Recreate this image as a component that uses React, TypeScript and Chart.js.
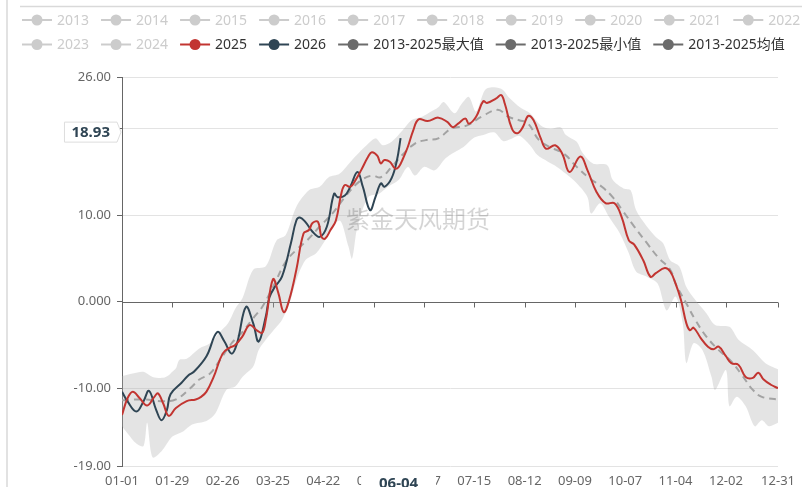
import React, { useEffect, useRef } from "react";
import { Chart, registerables } from "chart.js";

Chart.register(...registerables);

const FONT = '"Noto Sans", "Noto Sans CJK SC", sans-serif';

// legend
const greyLegend = ["2013", "2014", "2015", "2016", "2017", "2018", "2019", "2020", "2021", "2022", "2023", "2024"];
const activeLegend = ["2025", "2026", "2013-2025最大值", "2013-2025最小值", "2013-2025均值"];
const activeLegendColors = ["#c23531", "#2f4554", "#6b6b6b", "#6b6b6b", "#6b6b6b"];
const firstRowCount = 10;

// axes
const baseYear = 2024;
const xTickDays = [0, 28, 56, 84, 112, 140, 168, 196, 224, 252, 280, 308, 336, 365];
const yTickValues = [-19, -10, 0, 10, 20, 26];
const watermark = "紫金天风期货";

// 2025
const days2025 = [0, 3, 6, 10, 14, 18, 20, 23, 26, 30, 36, 41, 44, 47, 51, 56, 60, 63, 67, 71, 75, 78, 80, 84, 87, 90, 93, 97, 101, 104, 106, 109, 111, 113, 116, 119, 122, 124, 127, 130, 133, 137, 139, 142, 144, 146, 149, 152, 154, 156, 159, 162, 165, 170, 176, 181, 184, 187, 191, 193, 197, 201, 203, 208, 211, 213, 217, 220, 223, 226, 229, 233, 236, 241, 245, 249, 255, 259, 264, 269, 274, 278, 282, 285, 290, 294, 297, 302, 305, 308, 311, 314, 316, 318, 322, 326, 329, 332, 336, 339, 343, 347, 351, 354, 357, 361, 365];
const values2025 = [-13.1, -11.2, -10.4, -11.2, -12.0, -11.0, -10.6, -11.8, -13.2, -12.3, -11.5, -11.3, -11.0, -10.4, -8.7, -6.0, -5.3, -5.0, -4.0, -2.7, -3.3, -3.6, -2.1, 2.6, 1.0, -1.2, 0.2, 3.7, 7.9, 8.3, 9.1, 9.25, 7.5, 7.3, 8.3, 9.4, 12.5, 13.5, 13.3, 14.1, 15.2, 16.8, 17.3, 16.9, 16.0, 16.4, 16.2, 15.4, 15.6, 16.4, 17.9, 19.8, 21.1, 20.9, 21.3, 20.8, 20.2, 20.6, 21.2, 20.6, 21.4, 23.2, 23.0, 23.5, 23.9, 22.9, 20.0, 19.5, 20.2, 21.5, 21.0, 18.9, 17.7, 18.1, 17.1, 15.0, 16.8, 15.2, 12.7, 11.4, 11.4, 9.8, 7.1, 6.6, 4.8, 2.9, 3.3, 3.9, 3.5, 2.1, 0.2, -2.5, -3.3, -3.0, -4.2, -5.2, -5.5, -5.2, -6.3, -7.1, -7.3, -8.7, -8.8, -8.2, -9.0, -9.6, -10.0];

// 2026
const days2026 = [0, 3, 8, 12, 15, 19, 22, 25, 27, 33, 37, 40, 47, 53, 57, 61, 64, 69, 73, 76, 80, 82, 85, 89, 94, 97, 99, 102, 106, 110, 114, 118, 120, 124, 127, 131, 134, 138, 141, 144, 146, 150, 153, 155];
const values2026 = [-10.4, -11.5, -12.7, -11.5, -10.3, -12.5, -13.7, -12.5, -10.7, -9.4, -8.5, -8.1, -6.3, -3.5, -4.6, -6.0, -4.8, -0.6, -2.5, -4.6, -1.7, 0.5, 1.7, 2.9, 6.8, 9.4, 9.75, 9.25, 8.1, 7.5, 8.7, 12.5, 12.1, 12.3, 13.3, 15.0, 13.3, 10.6, 12.1, 13.7, 13.3, 14.3, 16.4, 18.93];

// 2013-2025 mean
const daysMean = [0, 12, 23, 30, 38, 43, 49, 54, 61, 67, 73, 78, 84, 91, 97, 103, 110, 117, 124, 132, 139, 144, 150, 156, 163, 169, 176, 183, 192, 200, 209, 215, 221, 226, 232, 238, 246, 253, 260, 267, 273, 279, 285, 292, 298, 305, 308, 314, 319, 325, 332, 339, 345, 351, 356, 365];
const valuesMean = [-11.4, -11.3, -11.5, -11.3, -10.0, -9.0, -8.3, -6.9, -4.8, -3.5, -1.9, -0.6, 1.7, 4.6, 6.0, 7.1, 8.7, 10.2, 12.1, 13.9, 14.6, 14.4, 15.6, 17.0, 18.3, 18.7, 18.9, 20.0, 20.4, 21.4, 22.2, 21.4, 21.0, 20.6, 18.7, 17.9, 17.1, 15.6, 14.3, 13.3, 12.1, 10.4, 8.7, 6.8, 5.2, 3.7, 2.1, -0.2, -2.1, -4.0, -5.6, -6.9, -8.5, -10.2, -11.0, -11.3];

// 2013-2025 max
const daysMax = [0, 6, 12, 17, 23, 26, 28, 30, 32, 36, 43, 49, 54, 59, 63, 67, 73, 80, 86, 91, 97, 104, 110, 115, 121, 128, 135, 141, 145, 150, 156, 161, 167, 172, 176, 179, 185, 189, 193, 197, 202, 207, 212, 215, 222, 227, 233, 238, 244, 247, 253, 256, 262, 270, 273, 279, 283, 286, 292, 297, 301, 305, 310, 314, 319, 325, 330, 338, 343, 351, 358, 365];
const valuesMax = [-8.6, -8.3, -8.1, -8.7, -8.8, -8.5, -8.1, -7.7, -6.7, -6.6, -5.4, -4.8, -3.6, -2.5, -0.8, 0.4, 3.7, 4.1, 7.1, 7.7, 11.0, 12.9, 13.3, 14.4, 14.8, 16.4, 17.9, 18.9, 18.1, 18.5, 19.8, 21.0, 21.4, 22.0, 22.5, 23.1, 21.8, 22.9, 23.7, 22.0, 24.5, 24.8, 24.5, 23.7, 22.4, 21.8, 20.4, 20.0, 20.2, 19.3, 18.5, 17.3, 16.0, 15.8, 14.1, 13.1, 12.9, 10.6, 8.7, 7.5, 6.8, 4.8, 4.1, 1.7, 0.2, -1.3, -2.7, -2.9, -4.4, -5.6, -7.1, -7.8];

// 2013-2025 min
const daysMin = [0, 3, 8, 12, 14, 17, 22, 28, 34, 39, 47, 52, 58, 63, 67, 73, 76, 80, 86, 89, 93, 97, 102, 108, 113, 121, 126, 128, 131, 137, 143, 148, 154, 159, 163, 168, 174, 180, 185, 190, 196, 201, 207, 212, 216, 221, 227, 231, 237, 242, 247, 253, 259, 261, 266, 271, 277, 282, 286, 292, 298, 303, 308, 312, 314, 318, 323, 328, 330, 336, 338, 342, 347, 352, 356, 360, 365];
const valuesMin = [-14.4, -15.2, -16.4, -16.7, -14.0, -18.0, -17.3, -15.6, -15.0, -14.2, -13.8, -12.9, -10.2, -9.8, -8.7, -7.5, -5.6, -4.4, -2.9, -2.1, -0.3, 2.5, 4.8, 5.6, 7.1, 9.4, 6.4, 5.0, 8.7, 12.1, 12.5, 13.3, 14.1, 15.6, 14.6, 15.6, 15.2, 16.6, 17.3, 17.9, 19.0, 19.3, 19.6, 18.6, 18.8, 19.2, 18.1, 17.0, 16.2, 15.6, 14.8, 13.7, 12.1, 10.2, 11.4, 9.8, 7.9, 5.6, 3.5, 2.9, 2.1, -1.0, 0.6, -2.5, -7.1, -4.8, -5.6, -8.7, -10.2, -7.9, -12.1, -11.0, -12.1, -14.4, -13.7, -14.4, -14.0];

function pts(days: number[], vals: number[]) {
  return days.map((d, i) => ({ x: d, y: vals[i] }));
}

function dayLabel(d: number) {
  const dt = new Date(baseYear, 0, 1 + Math.round(d));
  return String(dt.getMonth() + 1).padStart(2, "0") + "-" + String(dt.getDate()).padStart(2, "0");
}

const decorPlugin = {
  id: "decor",
  beforeDraw(chart: any) {
    const ctx = chart.ctx;
    ctx.save();
    ctx.fillStyle = "#fff";
    ctx.fillRect(0, 0, chart.width, chart.height);
    ctx.strokeStyle = "#d9d9d9";
    ctx.lineWidth = 1.5;
    ctx.beginPath();
    ctx.moveTo(7, 0);
    ctx.lineTo(7, chart.height);
    ctx.stroke();
    ctx.beginPath();
    ctx.moveTo(20, 6.5);
    ctx.lineTo(chart.width, 6.5);
    ctx.stroke();
    ctx.restore();
  },
  beforeDatasetsDraw(chart: any) {
    const { ctx, chartArea } = chart;
    const x = chart.scales.x;
    const y = chart.scales.y;
    const y0 = Math.round(y.getPixelForValue(0)) + 0.5;
    ctx.save();
    ctx.strokeStyle = "#666";
    ctx.lineWidth = 1;
    ctx.beginPath();
    ctx.moveTo(chartArea.left, y0);
    ctx.lineTo(chartArea.right, y0);
    x.ticks.forEach((t: any) => {
      const px = Math.round(x.getPixelForValue(t.value)) + 0.5;
      ctx.moveTo(px, y0);
      ctx.lineTo(px, y0 + 5);
    });
    ctx.stroke();
    ctx.restore();
  },
  afterDatasetsDraw(chart: any) {
    const ctx = chart.ctx;
    ctx.save();
    ctx.font = '24px "Noto Sans CJK SC", sans-serif';
    ctx.fillStyle = "rgba(0,0,0,0.17)";
    ctx.textAlign = "center";
    ctx.textBaseline = "middle";
    ctx.fillText(watermark, 418, 219);
    ctx.restore();
  },
  afterDraw(chart: any) {
    const { ctx, chartArea } = chart;
    const x = chart.scales.x;
    const y = chart.scales.y;
    ctx.save();
    // legend
    ctx.font = "14px " + FONT;
    ctx.textBaseline = "middle";
    ctx.textAlign = "left";
    const items = greyLegend
      .map((l) => ({ label: l, color: "#cccccc", text: "#cccccc" }))
      .concat(activeLegend.map((l, i) => ({ label: l, color: activeLegendColors[i], text: "#333333" })));
    let lx = 22;
    let ly = 20;
    items.forEach((it, i) => {
      if (i === firstRowCount) {
        lx = 22;
        ly = 44.5;
      }
      ctx.strokeStyle = it.color;
      ctx.lineWidth = 2;
      ctx.beginPath();
      ctx.moveTo(lx, ly);
      ctx.lineTo(lx + 30, ly);
      ctx.stroke();
      ctx.fillStyle = it.color;
      ctx.beginPath();
      ctx.arc(lx + 15, ly, 5.5, 0, Math.PI * 2);
      ctx.fill();
      ctx.fillStyle = it.text;
      ctx.fillText(it.label, lx + 35, ly + 1);
      lx += 35 + ctx.measureText(it.label).width + 12;
    });

    // axis pointer labels at last 2026 point
    const li = days2026.length - 1;
    const vx = x.getPixelForValue(days2026[li]);
    const vy = y.getPixelForValue(values2026[li]);
    ctx.font = "bold 15px " + FONT;
    const ytxt = values2026[li].toFixed(2);
    const ytw = ctx.measureText(ytxt).width;
    const cy = vy - 6;
    const right = chartArea.left - 5;
    const left = right - ytw - 14;
    ctx.beginPath();
    ctx.moveTo(left, cy - 10);
    ctx.lineTo(right, cy - 10);
    ctx.lineTo(right + 4, cy);
    ctx.lineTo(right, cy + 10);
    ctx.lineTo(left, cy + 10);
    ctx.closePath();
    ctx.fillStyle = "#fff";
    ctx.fill();
    ctx.strokeStyle = "#dddddd";
    ctx.lineWidth = 1;
    ctx.stroke();
    ctx.fillStyle = "#2f4554";
    ctx.textAlign = "center";
    ctx.fillText(ytxt, (left + right) / 2, cy + 1);

    const xtxt = dayLabel(days2026[li]);
    const bw = 75;
    const bc = vx - 2;
    ctx.fillStyle = "#fff";
    ctx.fillRect(bc - bw / 2, chartArea.bottom + 6, bw, 30);
    ctx.fillStyle = "#2f4554";
    ctx.fillText(xtxt, bc, chartArea.bottom + 17.5);
    ctx.restore();
  },
};

export default function App() {
  const ref = useRef<HTMLCanvasElement | null>(null);
  useEffect(() => {
    document.body.style.margin = "0";
    const canvas = ref.current;
    if (!canvas) return;
    Chart.defaults.font.family = FONT;
    Chart.defaults.font.size = 13;
    Chart.defaults.color = "#666";
    const chart = new Chart(canvas, {
      type: "line",
      data: {
        datasets: [
          {
            label: "2025",
            data: pts(days2025, values2025),
            borderColor: "#c23531",
            borderWidth: 2,
            pointRadius: 0,
            tension: 0.4,
            fill: false,
          },
          {
            label: "2026",
            data: pts(days2026, values2026),
            borderColor: "#2f4554",
            borderWidth: 2,
            pointRadius: 0,
            tension: 0.4,
            fill: false,
          },
          {
            label: "2013-2025均值",
            data: pts(daysMean, valuesMean),
            borderColor: "#a3a3a3",
            borderWidth: 2,
            borderDash: [7, 5],
            pointRadius: 0,
            tension: 0.4,
            fill: false,
          },
          {
            label: "2013-2025最大值",
            data: pts(daysMax, valuesMax),
            borderColor: "rgba(0,0,0,0)",
            borderWidth: 1,
            pointRadius: 0,
            tension: 0.3,
            fill: "+1",
            backgroundColor: "rgba(170,170,170,0.32)",
          },
          {
            label: "2013-2025最小值",
            data: pts(daysMin, valuesMin),
            borderColor: "rgba(0,0,0,0)",
            borderWidth: 1,
            pointRadius: 0,
            tension: 0.3,
            fill: false,
          },
        ],
      },
      options: {
        responsive: false,
        animation: false,
        events: [],
        layout: { padding: { left: 0, right: 19, top: 77, bottom: 0 } },
        plugins: {
          legend: { display: false },
          tooltip: { enabled: false },
        },
        scales: {
          x: {
            type: "linear",
            min: 0,
            max: 365,
            grid: { display: false, drawTicks: false },
            border: { display: false },
            afterBuildTicks: (s: any) => {
              s.ticks = xTickDays.map((v) => ({ value: v }));
            },
            afterFit: (s: any) => {
              s.height = 21;
            },
            ticks: {
              autoSkip: false,
              maxRotation: 0,
              padding: 7,
              color: "#666",
              font: { size: 13 },
              callback: (v: any) => dayLabel(Number(v)),
            },
          },
          y: {
            type: "linear",
            min: -19,
            max: 26,
            afterBuildTicks: (s: any) => {
              s.ticks = yTickValues.map((v) => ({ value: v }));
            },
            afterFit: (s: any) => {
              s.width = 122;
            },
            grid: {
              color: (c: any) => (c.tick && c.tick.value === 0 ? "rgba(0,0,0,0)" : "#e3e3e3"),
              tickColor: "#666",
              tickLength: 5,
              drawTicks: true,
            },
            border: { display: true, color: "#666", width: 1 },
            ticks: {
              padding: 6,
              color: "#666",
              font: { size: 13 },
              callback: (v: any) => Number(v).toPrecision(4),
            },
          },
        },
      },
      plugins: [decorPlugin],
    } as any);
    return () => chart.destroy();
  }, []);
  return (
    <div style={{ width: 802, height: 487 }}>
      <canvas ref={ref} width={802} height={487} style={{ display: "block" }} />
    </div>
  );
}
